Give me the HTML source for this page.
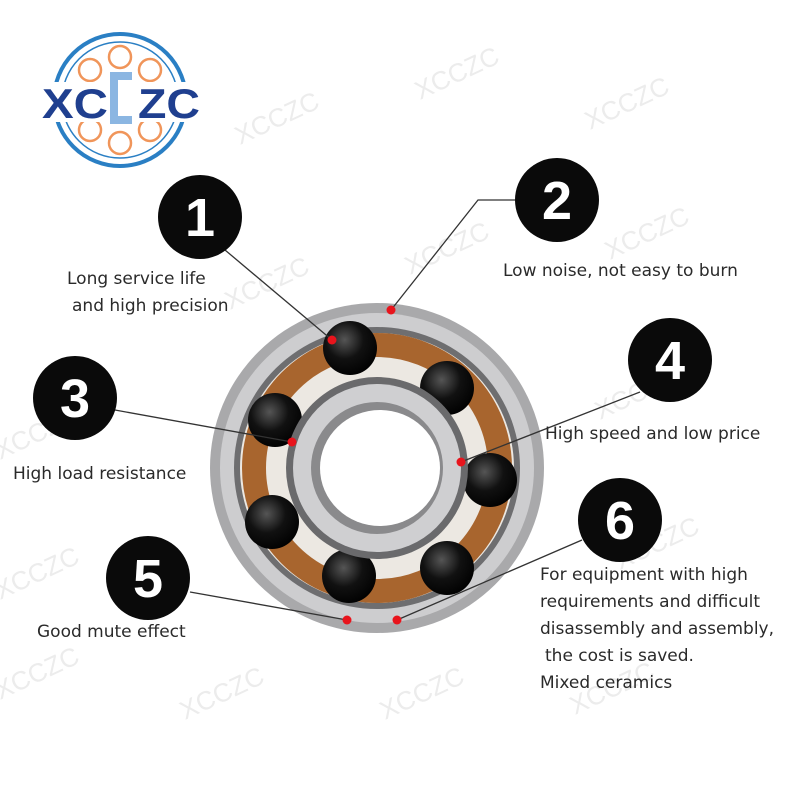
<!DOCTYPE html>
<html><head><meta charset="utf-8"><style>
html,body{margin:0;padding:0;background:#fff;}
svg{display:block}
.t{font-family:"DejaVu Sans","Liberation Sans",sans-serif;font-size:17px;fill:#2a2a2a}
.w{font-family:"Liberation Sans",sans-serif;font-size:26px;fill:#ececec;}
.n{font-family:"Liberation Sans",sans-serif;font-size:54px;font-weight:bold;fill:#fff;text-anchor:middle}
</style></head><body>
<svg width="800" height="800" viewBox="0 0 800 800">
<rect width="800" height="800" fill="#fff"/>
<g class="w">
<text transform="translate(240,145) rotate(-25)">XCCZC</text>
<text transform="translate(420,100) rotate(-25)">XCCZC</text>
<text transform="translate(590,130) rotate(-25)">XCCZC</text>
<text transform="translate(230,310) rotate(-25)">XCCZC</text>
<text transform="translate(410,275) rotate(-25)">XCCZC</text>
<text transform="translate(610,260) rotate(-25)">XCCZC</text>
<text transform="translate(0,460) rotate(-25)">XCCZC</text>
<text transform="translate(600,420) rotate(-25)">XCCZC</text>
<text transform="translate(0,600) rotate(-25)">XCCZC</text>
<text transform="translate(620,570) rotate(-25)">XCCZC</text>
<text transform="translate(0,700) rotate(-25)">XCCZC</text>
<text transform="translate(185,720) rotate(-25)">XCCZC</text>
<text transform="translate(385,720) rotate(-25)">XCCZC</text>
<text transform="translate(575,715) rotate(-25)">XCCZC</text>
</g>
<!-- logo -->
<g>
<circle cx="120" cy="100" r="66" fill="none" stroke="#2a7fc4" stroke-width="4"/>
<circle cx="120" cy="100" r="58" fill="none" stroke="#2a7fc4" stroke-width="1.5"/>
<g fill="none" stroke="#f0955a" stroke-width="2.5">
<circle cx="120" cy="57" r="11"/><circle cx="150" cy="70" r="11"/><circle cx="90" cy="70" r="11"/>
<circle cx="120" cy="143" r="11"/><circle cx="150" cy="130" r="11"/><circle cx="90" cy="130" r="11"/>
</g>
<rect x="40" y="82" width="160" height="40" fill="#fff"/>
<text x="42" y="118" font-family="Liberation Sans,sans-serif" font-weight="bold" font-size="42" fill="#1f3f8f" textLength="66" lengthAdjust="spacingAndGlyphs">XC</text>
<rect x="110" y="72" width="22" height="52" fill="#8bb6e2"/>
<rect x="118" y="80" width="14" height="36" fill="#fff"/>
<text x="138" y="118" font-family="Liberation Sans,sans-serif" font-weight="bold" font-size="42" fill="#1f3f8f" textLength="62" lengthAdjust="spacingAndGlyphs">ZC</text>
</g>
<!-- bearing -->
<defs>
<radialGradient id="ball" cx="0.4" cy="0.35" r="0.7"><stop offset="0" stop-color="#555"/><stop offset="0.5" stop-color="#111"/><stop offset="1" stop-color="#000"/></radialGradient>
</defs>
<ellipse cx="377" cy="468" rx="167" ry="165" fill="#a9a9ab"/>
<ellipse cx="377" cy="468" rx="157" ry="155" fill="#cdcdcf"/>
<ellipse cx="377" cy="468" rx="143" ry="141" fill="#6e6e70"/>
<ellipse cx="377" cy="468" rx="137" ry="135" fill="#ece8e2"/>
<circle cx="377" cy="468" r="123" fill="none" stroke="#a8652e" stroke-width="24"/>
<g fill="url(#ball)">
<circle cx="350" cy="348" r="27"/><circle cx="447" cy="388" r="27"/><circle cx="490" cy="480" r="27"/>
<circle cx="447" cy="568" r="27"/><circle cx="349" cy="576" r="27"/><circle cx="272" cy="522" r="27"/><circle cx="275" cy="420" r="27"/>
</g>
<circle cx="377" cy="468" r="91" fill="#6a6a6c"/>
<circle cx="377" cy="468" r="84" fill="#cfcfd1"/>
<circle cx="377" cy="468" r="66" fill="#8a8a8c"/>
<ellipse cx="380" cy="468" rx="60" ry="58" fill="#fff"/>
<!-- lines -->
<g stroke="#333" stroke-width="1.3" fill="none">
<line x1="225" y1="250" x2="332" y2="340"/>
<polyline points="391,310 478,200 515,200"/>
<line x1="115" y1="410" x2="292" y2="442"/>
<line x1="461" y1="462" x2="640" y2="392"/>
<line x1="190" y1="592" x2="347" y2="620"/>
<line x1="397" y1="620" x2="582" y2="540"/>
</g>
<g fill="#e8141c">
<circle cx="391" cy="310" r="4.5"/><circle cx="332" cy="340" r="4.5"/><circle cx="292" cy="442" r="4.5"/>
<circle cx="461" cy="462" r="4.5"/><circle cx="347" cy="620" r="4.5"/><circle cx="397" cy="620" r="4.5"/>
</g>
<g fill="#0a0a0a">
<circle cx="200" cy="217" r="42"/><circle cx="557" cy="200" r="42"/><circle cx="75" cy="398" r="42"/>
<circle cx="670" cy="360" r="42"/><circle cx="148" cy="578" r="42"/><circle cx="620" cy="520" r="42"/>
</g>
<text class="n" x="200" y="236">1</text><text class="n" x="557" y="219">2</text><text class="n" x="75" y="417">3</text>
<text class="n" x="670" y="379">4</text><text class="n" x="148" y="597">5</text><text class="n" x="620" y="539">6</text>
<text class="t" x="67" y="284">Long service life</text>
<text class="t" x="72" y="311">and high precision</text>
<text class="t" x="503" y="276">Low noise, not easy to burn</text>
<text class="t" x="13" y="479">High load resistance</text>
<text class="t" x="545" y="439">High speed and low price</text>
<text class="t" x="37" y="637">Good mute effect</text>
<text class="t" x="540" y="580">For equipment with high</text>
<text class="t" x="540" y="607">requirements and difficult</text>
<text class="t" x="540" y="634">disassembly and assembly,</text>
<text class="t" x="545" y="661">the cost is saved.</text>
<text class="t" x="540" y="688">Mixed ceramics</text>
</svg>
</body></html>
